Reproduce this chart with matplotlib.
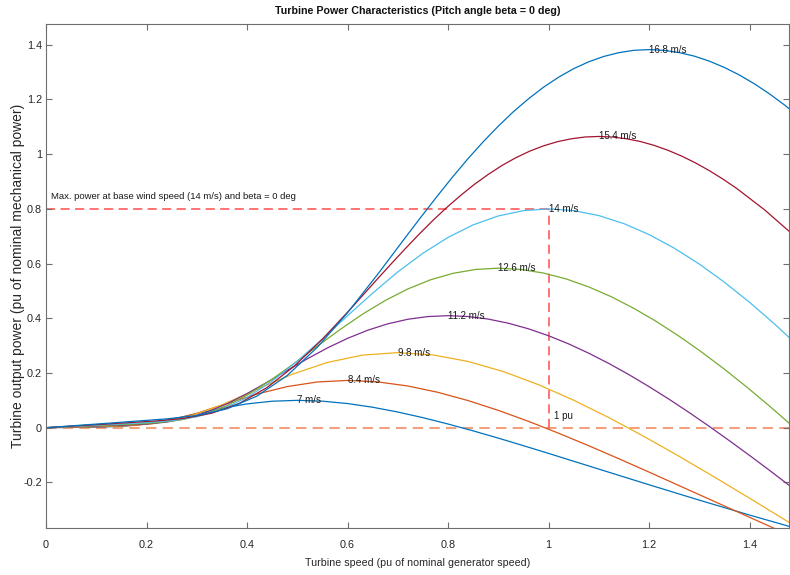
import matplotlib
matplotlib.use('Agg')
import matplotlib.pyplot as plt

# Turbine power curves, one pair of arrays per wind speed
# x = turbine speed (pu), p = turbine output power (pu)
x_7 = [0, 0.05, 0.1, 0.15, 0.2, 0.25, 0.3, 0.35, 0.4, 0.45, 0.5, 0.55, 0.6, 0.65, 0.7, 0.75, 0.8, 0.85, 0.9,
       0.95, 1.0, 1.1, 1.2, 1.3, 1.4, 1.5]
p_7 = [0, 0.0012, 0.0023, 0.0050, 0.0138, 0.0304, 0.0512, 0.0712, 0.0870, 0.0968, 0.1000, 0.0970, 0.0883,
       0.0748, 0.0573, 0.0367, 0.0135, -0.0116, -0.0381, -0.0657, -0.0939, -0.1513, -0.2086, -0.2649,
       -0.3194, -0.3718]

x_84 = [0, 0.06, 0.12, 0.18, 0.24, 0.30, 0.36, 0.42, 0.48, 0.54, 0.60, 0.66, 0.72, 0.78, 0.84, 0.90, 0.96,
        1.02, 1.08, 1.14, 1.20, 1.32, 1.44, 1.56]
p_84 = [0, 0.0020, 0.0040, 0.0086, 0.0239, 0.0525, 0.0884, 0.1230, 0.1503, 0.1672, 0.1728, 0.1675, 0.1525,
        0.1293, 0.0991, 0.0634, 0.0233, -0.0201, -0.0659, -0.1135, -0.1623, -0.2614, -0.3605, -0.4577]

x_98 = [0, 0.07, 0.14, 0.21, 0.28, 0.35, 0.42, 0.49, 0.56, 0.63, 0.70, 0.77, 0.84, 0.91, 0.98, 1.05, 1.12,
        1.19, 1.26, 1.33, 1.40, 1.54]
p_98 = [0, 0.0032, 0.0064, 0.0137, 0.0379, 0.0834, 0.1404, 0.1953, 0.2386, 0.2655, 0.2744, 0.2660, 0.2422,
        0.2053, 0.1573, 0.1006, 0.0370, -0.0319, -0.1047, -0.1803, -0.2577, -0.4151]

x_112 = [0, 0.08, 0.16, 0.20, 0.24, 0.28, 0.32, 0.36, 0.40, 0.44, 0.48, 0.52, 0.56, 0.60, 0.64, 0.68, 0.72,
         0.76, 0.80, 0.84, 0.88, 0.92, 0.96, 1.00, 1.04, 1.08, 1.12, 1.16, 1.20, 1.24, 1.28, 1.32, 1.36,
         1.40, 1.44, 1.48, 1.52]
p_112 = [0, 0.0047, 0.0095, 0.0132, 0.0204, 0.0342, 0.0565, 0.0872, 0.1245, 0.1662, 0.2095, 0.2518, 0.2916,
         0.3266, 0.3562, 0.3797, 0.3964, 0.4063, 0.4096, 0.4064, 0.3971, 0.3820, 0.3616, 0.3362, 0.3064,
         0.2724, 0.2349, 0.1940, 0.1502, 0.1039, 0.0553, 0.0047, -0.0476, -0.1013, -0.1562, -0.2123, -0.2691]

x_126 = [0, 0.09, 0.18, 0.225, 0.27, 0.315, 0.36, 0.405, 0.45, 0.495, 0.54, 0.585, 0.63, 0.675, 0.72, 0.765,
         0.81, 0.855, 0.90, 0.945, 0.99, 1.035, 1.08, 1.125, 1.17, 1.215, 1.26, 1.305, 1.35, 1.395, 1.44,
         1.485, 1.53]
p_126 = [0, 0.0067, 0.0136, 0.0187, 0.0290, 0.0488, 0.0805, 0.1241, 0.1773, 0.2366, 0.2983, 0.3586, 0.4151,
         0.4650, 0.5072, 0.5406, 0.5644, 0.5785, 0.5832, 0.5786, 0.5654, 0.5440, 0.5148, 0.4788, 0.4362,
         0.3879, 0.3344, 0.2762, 0.2139, 0.1479, 0.0787, 0.0067, -0.0677]

x_14 = [0, 0.1, 0.2, 0.25, 0.3, 0.35, 0.4, 0.45, 0.5, 0.55, 0.6, 0.65, 0.7, 0.75, 0.8, 0.85, 0.9, 0.95, 1.0,
        1.05, 1.1, 1.15, 1.2, 1.25, 1.3, 1.35, 1.4, 1.45, 1.5]
p_14 = [0, 0.0092, 0.0186, 0.0257, 0.0398, 0.0669, 0.1104, 0.1702, 0.2432, 0.3246, 0.4092, 0.4918, 0.5694,
        0.6378, 0.6957, 0.7415, 0.7742, 0.7935, 0.8000, 0.7937, 0.7756, 0.7462, 0.7062, 0.6567, 0.5984,
        0.5321, 0.4587, 0.3789, 0.2934]

x_154 = [0, 0.11, 0.22, 0.275, 0.33, 0.385, 0.44, 0.495, 0.55, 0.605, 0.66, 0.6875, 0.715, 0.7425, 0.77,
         0.7975, 0.825, 0.8525, 0.88, 0.9075, 0.935, 0.9625, 0.99, 1.0175, 1.045, 1.0725, 1.10, 1.1275,
         1.155, 1.1825, 1.21, 1.2375, 1.265, 1.2925, 1.32, 1.3475, 1.375, 1.43, 1.485, 1.54]
p_154 = [0, 0.0122, 0.0248, 0.0342, 0.0530, 0.0890, 0.1469, 0.2266, 0.3237, 0.4320, 0.5447, 0.6002, 0.6546,
         0.7075, 0.7579, 0.8051, 0.8490, 0.8897, 0.9260, 0.9588, 0.9870, 1.0110, 1.0304, 1.0456, 1.0562,
         1.0628, 1.0648, 1.0627, 1.0564, 1.0465, 1.0323, 1.0145, 0.9931, 0.9682, 0.9399, 0.9085, 0.8741,
         0.7965, 0.7082, 0.6106]

x_168 = [0, 0.12, 0.24, 0.30, 0.36, 0.42, 0.48, 0.54, 0.60, 0.66, 0.72, 0.75, 0.78, 0.81, 0.84, 0.87, 0.90,
         0.93, 0.96, 0.99, 1.02, 1.05, 1.08, 1.11, 1.14, 1.17, 1.20, 1.23, 1.26, 1.29, 1.32, 1.35, 1.38,
         1.41, 1.44, 1.47, 1.50, 1.56]
p_168 = [0, 0.0159, 0.0322, 0.0444, 0.0688, 0.1156, 0.1908, 0.2942, 0.4203, 0.5608, 0.7071, 0.7792, 0.8499,
         0.9186, 0.9840, 1.0453, 1.1022, 1.1551, 1.2022, 1.2448, 1.2814, 1.3126, 1.3378, 1.3574, 1.3712,
         1.3798, 1.3824, 1.3797, 1.3715, 1.3586, 1.3402, 1.3171, 1.2894, 1.2570, 1.2202, 1.1795, 1.1348,
         1.0340]

labels = ['7 m/s', '8.4 m/s', '9.8 m/s', '11.2 m/s', '12.6 m/s', '14 m/s', '15.4 m/s', '16.8 m/s']
xs = [x_7, x_84, x_98, x_112, x_126, x_14, x_154, x_168]
ps = [p_7, p_84, p_98, p_112, p_126, p_14, p_154, p_168]
colors = ['#0072BD', '#D95319', '#EDB120', '#7E2F8E', '#77AC30', '#4DBEEE', '#A2142F', '#0072BD']

# base operating point (14 m/s, 1 pu speed)
base_speed = 1.0
base_power = 0.8

xticks = [0, 0.2, 0.4, 0.6, 0.8, 1.0, 1.2, 1.4]
yticks = [-0.2, 0, 0.2, 0.4, 0.6, 0.8, 1.0, 1.2, 1.4]

plt.rcParams['font.family'] = ['Liberation Sans', 'DejaVu Sans']
txt_color = '#262626'
axis_color = '#6e6e6e'

fig = plt.figure(figsize=(7.9, 5.75), dpi=100)
ax = fig.add_axes([46 / 790, 1 - 527.6 / 575, (789 - 46) / 790, (527.6 - 24) / 575])

# zero line and base power markers
ax.axhline(0, color='#F2A07E', lw=1.5, ls=(0, (5, 3)), zorder=1)
ax.plot([0, base_speed], [base_power, base_power], color='#FF4D4D', lw=1.1, ls=(0, (6, 3.5)), zorder=1)
ax.plot([base_speed, base_speed], [0, base_power], color='#FF4D4D', lw=1.1, ls=(0, (6, 3.5)), zorder=1)

for x, p, c, lab in zip(xs, ps, colors, labels):
    ax.plot(x, p, color=c, lw=0.9, zorder=2)
    i = p.index(max(p))
    ax.text(x[i], p[i], lab, ha='left', va='center', fontsize=7, color='#1a1a1a', zorder=3)

ax.text(0.01, 0.845, 'Max. power at base wind speed (14 m/s) and beta = 0 deg', fontsize=6.8,
        ha='left', va='center', color='#1a1a1a')
ax.text(1.011, 0.043, '1 pu', fontsize=7, ha='left', va='center', color='#1a1a1a')

ax.set_xlim(0, 1.4786)
ax.set_ylim(-0.3653, 1.476)
ax.set_xticks(xticks)
ax.set_xticklabels([f'{v:g}' for v in xticks])
ax.set_yticks(yticks)
ax.set_yticklabels([f'{v:g}' for v in yticks])
ax.tick_params(direction='in', length=4, width=0.8, color=axis_color, labelcolor=txt_color,
               labelsize=7.8, top=True, right=True, pad=3)
ax.tick_params(axis='x', pad=9)
for s in ax.spines.values():
    s.set_color(axis_color)
    s.set_linewidth(0.8)

ax.set_title('Turbine Power Characteristics (Pitch angle beta = 0 deg)', fontsize=7.7, fontweight='bold',
             color='#111111', pad=7)
ax.set_xlabel('Turbine speed (pu of nominal generator speed)', fontsize=7.7, color=txt_color, labelpad=6)
ax.set_ylabel('Turbine output power (pu of nominal mechanical power)', fontsize=10, color=txt_color)
ax.yaxis.set_label_coords(-0.028, 0.5)

fig.savefig('out.png', dpi=100)
